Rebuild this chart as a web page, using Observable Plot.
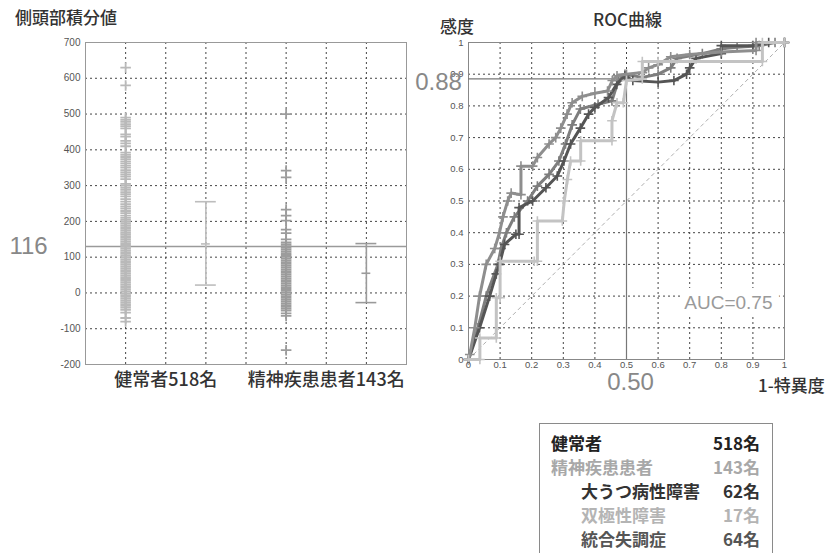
<!DOCTYPE html>
<html>
<head>
<meta charset="utf-8">
<script src="https://cdn.jsdelivr.net/npm/d3@7"></script>
<script src="https://cdn.jsdelivr.net/npm/@observablehq/plot@0.6"></script>
<style>
  html, body { margin: 0; padding: 0; background: #fff; }
  #root { position: relative; width: 829px; height: 553px; overflow: hidden; background: #fff;
          font-family: "Noto Sans CJK JP", "Noto Sans", sans-serif; }
  .abs { position: absolute; white-space: nowrap; }
  .ttl { font-size: 17px; font-weight: 500; color: #333; line-height: 1; }
  #root svg { position: absolute; top: 0; background: transparent; max-width: none; }
  .legend { position: absolute; left: 539px; top: 423px; width: 234px; height: 150px; box-sizing: border-box;
            border: 1px solid #8a8a8a; padding-top: 7px; }
  .row { position: relative; height: 24px; line-height: 24px; font-size: 17px; font-weight: 700; }
  .row .n { position: absolute; right: 12px; top: 0; }
</style>
</head>
<body>
<div id="root"></div>
<script>
// ---------------- data ----------------
const leftTicks = [-200, -100, 0, 100, 200, 300, 400, 500, 600, 700];
const groupLabels = ["健常者518名", "精神疾患患者143名"];
const slotScatter = [1, 5];
const slotError = [3, 7];
const slotLabel = [2, 6];
const slotGrid = [1, 2, 3, 4, 5, 6, 7];

const healthyValues = [
  630, 580,
  490, 484, 478, 472, 466, 460, 443, 437, 425, 418, 410,
  392, 386, 380, 374, 368, 362, 356, 350, 343, 337, 331, 325, 318,
  305, 300, 294, 288, 282, 276, 270, 262, 255, 248, 242, 236, 229, 223, 216, 210,
  204, 199, 194, 189, 184, 179, 174, 169, 164, 159, 154, 149, 144, 139, 134, 129,
  124, 119, 114, 109, 104, 99, 94, 89, 84, 79, 74, 69, 64, 59, 54, 49, 44, 39, 34,
  29, 24, 19, 14, 9, 4, -1, -6, -11, -16, -21, -26, -31, -36, -41,
  -47, -55, -70, -80
];
const patientValues = [
  500, 342, 323, 233, 216, 202, 177, 167, 150, 141,
  136, 131, 126, 121, 116, 111, 106, 101, 96, 91, 86, 81, 76, 71, 66, 61, 56, 51,
  46, 41, 36, 31, 26, 21, 16, 11, 6, 1, -4, -9, -14, -19, -24, -29, -34, -39, -44, -49,
  -57, -64, -160
];
const errMean = [137, 55];
const errHigh = [255, 138];
const errLow = [22, -27];
const cutoffLabel = "116";
const cutoffLine = 130;

const rocTicks = [0, 0.1, 0.2, 0.3, 0.4, 0.5, 0.6, 0.7, 0.8, 0.9, 1];
const rocUpper = [
  [0, 0], [0.004, 0.016], [0.02, 0.1], [0.035, 0.2], [0.056, 0.3], [0.083, 0.35], [0.098, 0.4],
  [0.109, 0.45], [0.124, 0.5], [0.135, 0.525], [0.166, 0.52], [0.166, 0.61], [0.203, 0.61],
  [0.218, 0.637], [0.255, 0.68], [0.276, 0.7], [0.292, 0.73], [0.312, 0.774], [0.328, 0.81],
  [0.36, 0.83], [0.4, 0.84], [0.44, 0.847], [0.455, 0.88], [0.47, 0.895], [0.5, 0.9],
  [0.55, 0.905], [0.57, 0.92], [0.6, 0.93], [0.64, 0.955], [0.7, 0.962], [0.8, 0.97],
  [0.91, 0.975], [0.91, 1], [1, 1]
];
const rocMiddle = [
  [0, 0], [0.03, 0.1], [0.056, 0.2], [0.093, 0.3], [0.103, 0.35], [0.12, 0.4], [0.145, 0.45],
  [0.187, 0.5], [0.218, 0.547], [0.255, 0.584], [0.286, 0.626], [0.307, 0.68], [0.328, 0.74],
  [0.354, 0.79], [0.41, 0.805], [0.454, 0.816], [0.474, 0.88], [0.495, 0.9], [0.55, 0.89],
  [0.6, 0.9], [0.64, 0.92], [0.66, 0.95], [0.74, 0.965], [0.8, 0.98], [0.85, 0.985],
  [0.92, 0.99], [0.97, 1], [1, 1]
];
const rocDark = [
  [0, 0], [0.035, 0.1], [0.067, 0.2], [0.088, 0.27], [0.098, 0.3], [0.114, 0.363], [0.15, 0.395],
  [0.16, 0.395], [0.16, 0.479], [0.203, 0.5], [0.245, 0.542], [0.281, 0.579], [0.302, 0.626],
  [0.323, 0.68], [0.354, 0.73], [0.38, 0.774], [0.4, 0.795], [0.443, 0.826], [0.469, 0.868],
  [0.495, 0.895], [0.52, 0.88], [0.6, 0.875], [0.65, 0.88], [0.69, 0.9], [0.7, 0.92],
  [0.72, 0.95], [0.8, 0.965], [0.8, 0.99], [0.9, 0.99], [0.95, 1], [1, 1]
];
const rocLight = [
  [0, 0], [0.036, 0], [0.036, 0.068], [0.088, 0.068], [0.088, 0.195], [0.1, 0.195], [0.1, 0.31],
  [0.208, 0.31], [0.218, 0.31], [0.218, 0.437], [0.297, 0.437], [0.303, 0.5], [0.313, 0.568],
  [0.323, 0.626], [0.355, 0.626], [0.355, 0.69], [0.454, 0.69], [0.454, 0.753], [0.47, 0.81],
  [0.49, 0.81], [0.5, 0.88], [0.55, 0.885], [0.55, 0.94], [0.6, 0.94], [0.93, 0.94],
  [0.93, 1], [1, 1]
];
const diagonal = [0, 1];
const sensLabel = "0.88";
const sensLine = 0.885;
const fprLabel = "0.50";
const fprLine = 0.5;
const aucLabel = "AUC=0.75";

const legendNames = ["健常者", "精神疾患患者", "大うつ病性障害", "双極性障害", "統合失調症"];
const legendCounts = ["518名", "143名", "62名", "17名", "64名"];
const legendIndent = [false, false, true, true, true];
const legendColors = ["#222", "#a8a8a8", "#333", "#b4b4b4", "#555"];

// ---------------- drawing ----------------
const root = document.getElementById("root");
const numFont = "Liberation Sans, Arial, sans-serif";
const gridStyle = {stroke: "#444", strokeDasharray: "2,3", strokeWidth: 1};
const errColors = ["#bdbdbd", "#9a9a9a"];

const left = Plot.plot({
  width: 420, height: 400,
  marginLeft: 85, marginRight: 14, marginTop: 42, marginBottom: 36,
  x: {domain: [0, 8], axis: null},
  y: {domain: [-200, 700], axis: null},
  style: {background: "transparent", overflow: "visible"},
  marks: [
    Plot.ruleX(slotGrid, gridStyle),
    Plot.ruleY(leftTicks.slice(1, -1), gridStyle),
    Plot.frame({stroke: "#999"}),
    Plot.ruleY([cutoffLine], {stroke: "#9a9a9a", strokeWidth: 1.5}),
    Plot.dot(healthyValues, {x: () => slotScatter[0], y: d => d, symbol: "plus", r: 3.5, stroke: "#b9b9b9", strokeWidth: 1.8}),
    Plot.dot(patientValues, {x: () => slotScatter[1], y: d => d, symbol: "plus", r: 3.5, stroke: "#9c9c9c", strokeWidth: 1.8}),
    Plot.ruleX([0, 1], {x: i => slotError[i], y1: i => errLow[i], y2: i => errHigh[i], stroke: i => errColors[i], strokeWidth: 1.6}),
    Plot.ruleY([0, 1], {y: i => errHigh[i], x1: i => slotError[i] - 0.26, x2: i => slotError[i] + 0.26, stroke: i => errColors[i], strokeWidth: 1.6}),
    Plot.ruleY([0, 1], {y: i => errLow[i], x1: i => slotError[i] - 0.26, x2: i => slotError[i] + 0.26, stroke: i => errColors[i], strokeWidth: 1.6}),
    Plot.ruleY([0, 1], {y: i => errMean[i], x1: i => slotError[i] - 0.11, x2: i => slotError[i] + 0.11, stroke: i => errColors[i], strokeWidth: 1.6}),
    Plot.text(leftTicks, {y: d => d, frameAnchor: "left", dx: -5, textAnchor: "end", text: d => String(d), fontSize: 10, fill: "#555", fontFamily: numFont}),
    Plot.text(groupLabels, {x: (d, i) => slotLabel[i], frameAnchor: "bottom", dy: 21, text: d => d, fontSize: 18, fill: "#333", fontWeight: 500, fontFamily: "Noto Sans CJK JP"}),
    Plot.text([cutoffLabel], {x: () => 0, y: () => cutoffLine, dx: -57, text: d => d, fontSize: 24, fill: "#888", fontFamily: numFont})
  ]
});
left.style.left = "0px";
root.appendChild(left);

const curveStyles = [
  {data: rocMiddle, color: "#7e7e7e"},
  {data: rocDark, color: "#555555"},
  {data: rocUpper, color: "#8e8e8e"},
  {data: rocLight, color: "#c3c3c3"}
];
const curveMarks = [];
for (const c of curveStyles) {
  curveMarks.push(Plot.line(c.data, {x: d => d[0], y: d => d[1], stroke: c.color, strokeWidth: 3}));
  curveMarks.push(Plot.dot(c.data, {x: d => d[0], y: d => d[1], symbol: "plus", r: 3.2, stroke: c.color, strokeWidth: 1.6}));
}
const fmt = d => (d === 0 ? "0" : d === 1 ? "1" : d.toFixed(1));

const right = Plot.plot({
  width: 429, height: 400,
  marginLeft: 68, marginRight: 45, marginTop: 42, marginBottom: 41,
  x: {domain: [0, 1], axis: null},
  y: {domain: [0, 1], axis: null},
  style: {background: "transparent", overflow: "visible"},
  marks: [
    Plot.ruleX(rocTicks.slice(1, -1), gridStyle),
    Plot.ruleY(rocTicks.slice(1, -1), gridStyle),
    Plot.text([aucLabel], {frameAnchor: "bottom-right", dx: -12, dy: -51, textAnchor: "end", text: d => d,
      fontSize: 19, fill: "#9a9a9a", stroke: "white", strokeWidth: 16, strokeLinejoin: "round", fontFamily: numFont}),
    Plot.frame({stroke: "#888"}),
    Plot.link([diagonal], {x1: d => d[0], y1: d => d[0], x2: d => d[1], y2: d => d[1], stroke: "#999", strokeDasharray: "4,3", strokeWidth: 0.8}),
    Plot.ruleY([sensLine], {x1: () => 0, x2: () => fprLine, stroke: "#777", strokeWidth: 1.2}),
    Plot.ruleX([fprLine], {y1: () => 0, y2: () => sensLine, stroke: "#777", strokeWidth: 1.2}),
    ...curveMarks,
    Plot.text(rocTicks, {y: d => d, frameAnchor: "left", dx: -5, textAnchor: "end", text: fmt, fontSize: 9.5, fill: "#555", fontFamily: numFont}),
    Plot.text(rocTicks, {x: d => d, frameAnchor: "bottom", dy: 8, text: fmt, fontSize: 9.5, fill: "#555", fontFamily: numFont}),
    Plot.text([sensLabel], {x: () => 0, y: () => sensLine, dx: -30, dy: 3, text: d => d, fontSize: 24, fill: "#888", fontFamily: numFont}),
    Plot.text([fprLabel], {x: () => fprLine, y: () => 0, dx: 4, dy: 23, text: d => d, fontSize: 24, fill: "#888", fontFamily: numFont})
  ]
});
right.style.left = "400px";
root.appendChild(right);

// titles
function addText(txt, l, t) {
  const el = document.createElement("div");
  el.className = "abs ttl";
  el.textContent = txt;
  el.style.left = l + "px";
  el.style.top = t + "px";
  root.appendChild(el);
}
addText("側頭部積分値", 15, 8);
addText("感度", 440, 17);
addText("ROC曲線", 593, 10);
addText("1-特異度", 758, 376);

// legend box
const box = document.createElement("div");
box.className = "legend";
legendNames.forEach((name, i) => {
  const row = document.createElement("div");
  row.className = "row";
  row.style.color = legendColors[i];
  const a = document.createElement("span");
  a.textContent = name;
  a.style.position = "absolute";
  a.style.left = (legendIndent[i] ? 41 : 11) + "px";
  const b = document.createElement("span");
  b.className = "n";
  b.textContent = legendCounts[i];
  row.appendChild(a);
  row.appendChild(b);
  box.appendChild(row);
});
root.appendChild(box);
</script>
</body>
</html>
